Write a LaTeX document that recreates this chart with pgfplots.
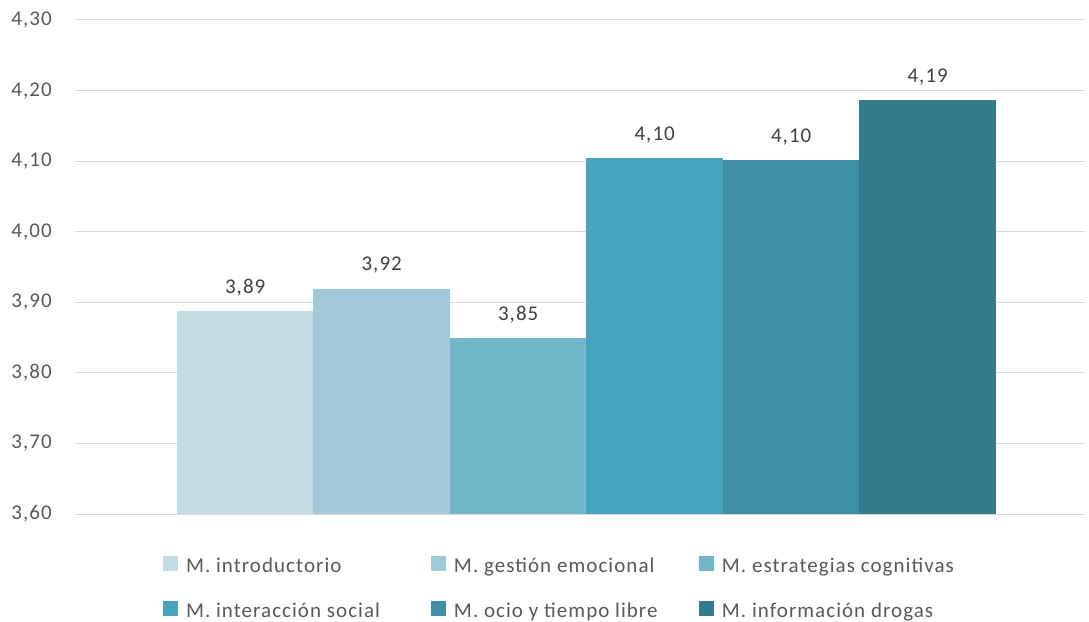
\documentclass[border=0pt]{standalone}
\usepackage{pgfplots}
\pgfplotsset{compat=1.18}
\usepackage{fontspec}
\setmainfont{Carlito}[LetterSpace=5]

\definecolor{c1}{HTML}{C3DBE4}
\definecolor{c2}{HTML}{A2C9D9}
\definecolor{c3}{HTML}{72B6CC}
\definecolor{c4}{HTML}{46A4BE}
\definecolor{c5}{HTML}{3F8FA7}
\definecolor{c6}{HTML}{337C90}
\definecolor{gridc}{HTML}{D9D9D9}
\definecolor{txt}{HTML}{595959}
\definecolor{lbl}{HTML}{404040}

% legend cells share one width, as in the original
\newcommand{\lentry}[1]{\makebox[238bp][l]{\strut #1}}

\begin{document}
\begin{tikzpicture}
\begin{axis}[
    scale only axis,
    width=1010bp, height=494bp,
    ybar, bar width=136.5bp,
    xmin=-1.247, xmax=6.152,
    ymin=3.6, ymax=4.3,
    ytick={3.6,3.7,...,4.31},
    xtick=\empty,
    axis line style={draw=none},
    major tick style={draw=none},
    ymajorgrids, grid style={gridc, line width=1bp},
    /pgf/number format/use comma,
    /pgf/number format/fixed,
    /pgf/number format/fixed zerofill,
    /pgf/number format/precision=2,
    /pgf/number format/assume math mode=true,
    yticklabel style={font=\fontsize{21bp}{24bp}\selectfont, text=txt,
        inner sep=0pt, anchor=east, xshift=-23bp},
    nodes near coords,
    nodes near coords style={font=\fontsize{21bp}{24bp}\selectfont, text=lbl,
        inner sep=0pt, anchor=south, yshift=15bp},
    legend columns=3,
    legend style={at={(0.4827,-0.1486)}, anchor=center, draw=none,
        font=\fontsize{21bp}{24bp}\selectfont, text=txt,
        /tikz/every odd column/.append style={column sep=6bp},
        /tikz/every even column/.append style={column sep=5bp},
        row sep=23.5bp},
    legend cell align=left,
    legend image code/.code={\fill[#1] (0bp,-6bp) rectangle (15bp,9bp);},
]
\addplot[fill=c1, draw=none, bar shift=0pt] coordinates {(0,3.887)};
\addplot[fill=c2, draw=none, bar shift=0pt] coordinates {(1,3.919)};
\addplot[fill=c3, draw=none, bar shift=0pt] coordinates {(2,3.849)};
\addplot[fill=c4, draw=none, bar shift=0pt] coordinates {(3,4.104)};
\addplot[fill=c5, draw=none, bar shift=0pt] coordinates {(4,4.101)};
\addplot[fill=c6, draw=none, bar shift=0pt] coordinates {(5,4.186)};
\legend{\lentry{M. introductorio}, \lentry{M. gestión emocional}, \lentry{M. estrategias cognitivas},
        \lentry{M. interacción social}, \lentry{M. ocio y tiempo libre}, \lentry{M. información drogas}}
\end{axis}
\pgfresetboundingbox
\path[use as bounding box] (-75bp,-108bp) rectangle (1014bp,514bp);
\end{tikzpicture}
\end{document}
